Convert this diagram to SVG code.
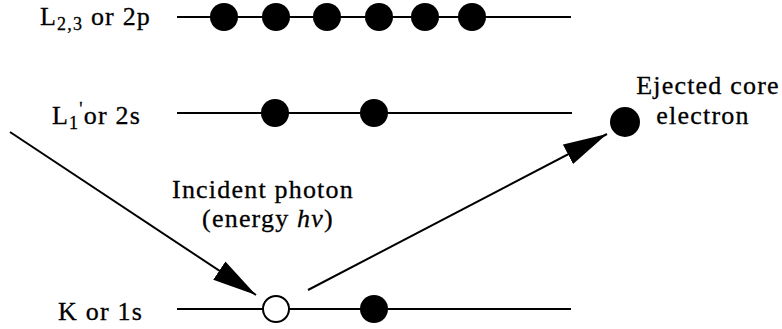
<svg xmlns="http://www.w3.org/2000/svg" width="782" height="329" viewBox="0 0 782 329">
  <style>
    .lbl { font-family: "Liberation Serif", "Times New Roman", serif; font-size: 26px; letter-spacing: 1.2px; fill: #000; stroke: #000; stroke-width: 0.3px; }
    .sub { font-size: 18px; }
    .level { stroke: #000; stroke-width: 2; fill: none; }
    .e { fill: #000; }
    .hole { fill: #fff; stroke: #000; stroke-width: 2; }
    .ray { stroke: #000; stroke-width: 2; fill: none; marker-end: url(#head); }
  </style>
  <defs>
    <marker id="head" viewBox="0 0 44 24" refX="44" refY="12" markerWidth="44" markerHeight="24" markerUnits="userSpaceOnUse" orient="auto">
      <path d="M0,1 L44,12 L0,23 Z" fill="#000"/>
    </marker>
  </defs>

  <!-- energy levels -->
  <g id="level-2p">
    <text class="lbl" x="40" y="25">L<tspan class="sub" dy="5">2,3</tspan><tspan dy="-5"> or 2p</tspan></text>
    <line class="level" x1="177" y1="17" x2="571" y2="17"/>
    <circle class="e" cx="224" cy="17" r="14"/>
    <circle class="e" cx="276" cy="17" r="14"/>
    <circle class="e" cx="327" cy="17" r="14"/>
    <circle class="e" cx="379" cy="17" r="14"/>
    <circle class="e" cx="425" cy="17" r="14"/>
    <circle class="e" cx="472" cy="17" r="14"/>
  </g>

  <g id="level-2s">
    <text class="lbl" x="52" y="124">L<tspan class="sub" dy="5">1</tspan><tspan class="sub" dy="-14">'</tspan><tspan dy="9">or 2s</tspan></text>
    <line class="level" x1="177" y1="113" x2="572" y2="113"/>
    <circle class="e" cx="275" cy="113" r="14"/>
    <circle class="e" cx="374" cy="113" r="14"/>
  </g>

  <g id="level-1s">
    <text class="lbl" x="58" y="320">K or 1s</text>
    <line class="level" x1="177" y1="309" x2="571" y2="309"/>
    <circle class="hole" cx="276" cy="309" r="13"/>
    <circle class="e" cx="374" cy="309" r="14"/>
  </g>

  <g id="photon-label">
    <text class="lbl" x="263" y="198" text-anchor="middle">Incident photon</text>
    <text class="lbl" x="268" y="227" text-anchor="middle">(energy <tspan font-style="italic">hv</tspan>)</text>
  </g>

  <g id="ejected-electron">
    <circle class="e" cx="625" cy="122" r="15"/>
    <text class="lbl" x="708" y="94" text-anchor="middle">Ejected core</text>
    <text class="lbl" x="703" y="124" text-anchor="middle">electron</text>
  </g>

  <!-- incoming photon and outgoing electron paths -->
  <g id="connectors">
    <line class="ray" x1="10" y1="132" x2="256" y2="295"/>
    <line class="ray" x1="308" y1="290" x2="607" y2="134"/>
  </g>
</svg>
